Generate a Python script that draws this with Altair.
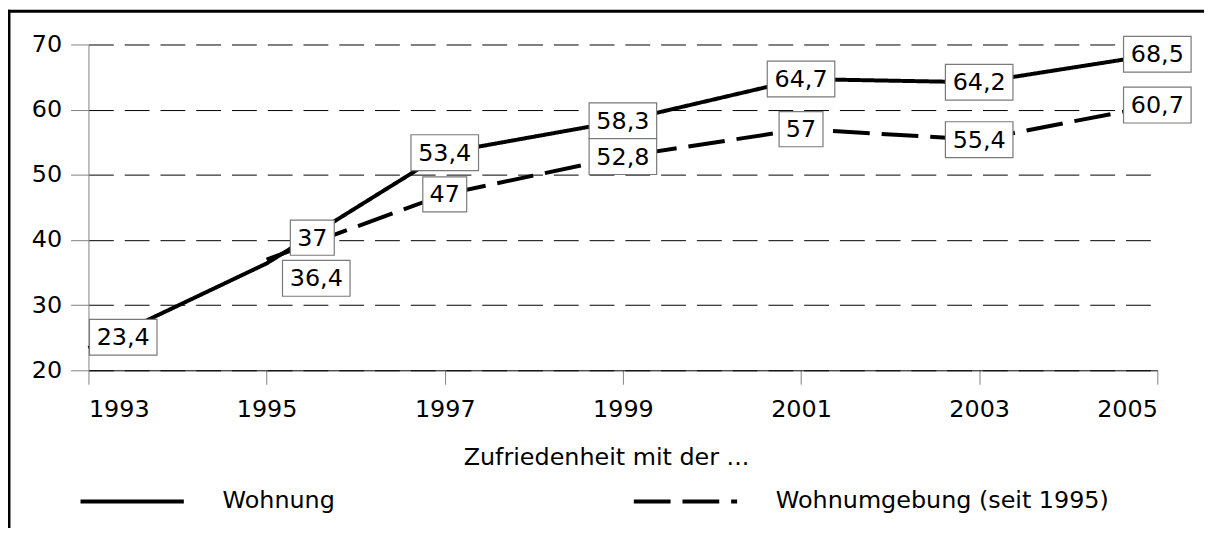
import altair as alt
import pandas as pd

# ---------------- data ----------------
years_wohnung = [1993, 1995, 1997, 1999, 2001, 2003, 2005]
wohnung = [23.4, 36.4, 53.4, 58.3, 64.7, 64.2, 68.5]
years_umgebung = [1995, 1997, 1999, 2001, 2003, 2005]
wohnumgebung = [37.0, 47.0, 52.8, 57.0, 55.4, 60.7]
series_names = ["Wohnung", "Wohnumgebung (seit 1995)"]
x_ticks = [1993, 1995, 1997, 1999, 2001, 2003, 2005]
y_ticks = [20, 30, 40, 50, 60, 70]
x_title = "Zufriedenheit mit der ..."

rows = []
for yr, v in zip(years_wohnung, wohnung):
    rows.append({"year": yr, "value": v, "series": series_names[0]})
for yr, v in zip(years_umgebung, wohnumgebung):
    rows.append({"year": yr, "value": v, "series": series_names[1]})
df = pd.DataFrame(rows)
df["label"] = df["value"].map(lambda v: f"{v:g}".replace(".", ","))
df["w"] = df["label"].str.len().astype(str)

FONT = "DejaVu Sans"
FS = 24
W, H = 1076, 328

x_enc = alt.X(
    "year:Q",
    scale=alt.Scale(domain=[1993, 2005], nice=False, zero=False),
    axis=alt.Axis(
        values=x_ticks, format="d", title=x_title, grid=False,
        tickSize=14, tickColor="#808080", domainColor="#000000",
        labelPadding=13, titleY=76, titleX=521, titleBaseline="top",
        titleAlign="center",
    ),
)
y_enc = alt.Y(
    "value:Q",
    scale=alt.Scale(domain=[20, 70], nice=False, zero=False),
    axis=alt.Axis(
        values=y_ticks, title=None, grid=True, gridDash=[25, 11],
        gridColor="#000000", gridWidth=1, gridOpacity=1,
        tickSize=18, tickColor="#808080", domainColor="#808080",
        labelPadding=9,
    ),
)

lines = alt.Chart(df).mark_line(color="black", strokeWidth=4).encode(
    x=x_enc,
    y=y_enc,
    strokeDash=alt.StrokeDash(
        "series:N",
        scale=alt.Scale(domain=series_names, range=[[1, 0], [37, 12]]),
        legend=alt.Legend(
            orient="none", legendX=-10, legendY=406, direction="horizontal",
            title=None, symbolType="stroke", symbolSize=10816,
            symbolStrokeWidth=4, symbolStrokeColor="black",
            labelOffset=37, columnPadding=292, padding=0, labelLimit=800,
            labelFont=FONT, labelFontSize=FS, labelColor="black",
        ),
    ),
)

box_paths = [
    "M-0.65,-0.52H0.65V0.52H-0.65Z",
    "M-1,-0.53H1V0.53H-1Z",
]


def label_layers(expr, xo, yo):
    base = alt.Chart(df).transform_filter(expr)
    box = base.mark_point(
        filled=True, fill="white", fillOpacity=1, opacity=1,
        stroke="#7a7a7a", strokeWidth=1.2, size=4624,
        xOffset=xo, yOffset=yo,
    ).encode(
        x=x_enc, y=y_enc,
        shape=alt.Shape("w:N", scale=alt.Scale(domain=["2", "4"], range=box_paths), legend=None),
    )
    txt = base.mark_text(
        font=FONT, fontSize=FS, color="black", align="center", baseline="middle",
        xOffset=xo, yOffset=yo + 1,
    ).encode(x=x_enc, y=y_enc, text="label:N")
    return [box, txt]


layers = [lines]
layers += label_layers("datum.year > 1995", 0, 0)
layers += label_layers("datum.year == 1993", 35, -11)
layers += label_layers("datum.year == 1995 && datum.series == 'Wohnung'", 50, 15)
layers += label_layers("datum.year == 1995 && datum.series != 'Wohnung'", 46, -22)

frame_df = pd.DataFrame({"k": [0]})
frame_top = alt.Chart(frame_df).mark_rule(color="black", strokeWidth=3).encode(
    x=alt.value(-81), x2=alt.value(1200), y=alt.value(-33.5)
)
frame_left = alt.Chart(frame_df).mark_rule(color="black", strokeWidth=3).encode(
    x=alt.value(-80), y=alt.value(-35), y2=alt.value(520)
)
layers += [frame_top, frame_left]

chart = (
    alt.layer(*layers)
    .properties(
        width=W, height=H,
        autosize=alt.AutoSizeParams(type="none"),
        padding={"left": 81, "top": 35, "right": 47, "bottom": 157},
    )
    .configure(font=FONT)
    .configure_axis(
        labelFont=FONT, labelFontSize=FS, labelColor="black",
        titleFont=FONT, titleFontSize=FS, titleColor="black", titleFontWeight="normal",
    )
    .configure_view(strokeWidth=0)
)

chart.save("out.html", embed_options={"renderer": "svg", "actions": False})
